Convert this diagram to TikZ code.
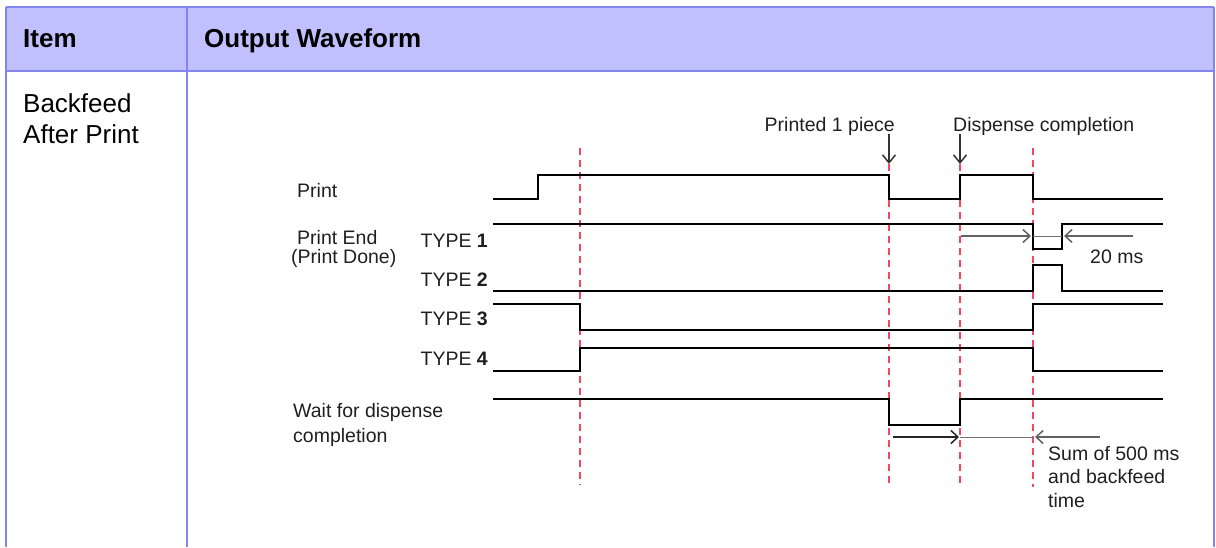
\documentclass[tikz,border=0pt]{standalone}
\usepackage{fontspec}
\setmainfont{Liberation Sans}
\usetikzlibrary{arrows.meta}
\definecolor{hdrfill}{RGB}{192,192,255}
\definecolor{hdrline}{RGB}{132,132,238}
\definecolor{dashred}{RGB}{245,70,90}
\tikzset{
  wave/.style={line width=2pt, black, line join=miter, line cap=rect},
  marker/.style={dashred, line width=1.8pt, dash pattern=on 7pt off 5pt},
  lbl/.style={font=\fontsize{19.5}{23}\selectfont, inner sep=0pt, anchor=base west, text=black!88},
  lblr/.style={lbl, anchor=base east},
  cell/.style={font=\fontsize{26}{30}\selectfont, inner sep=0pt, anchor=base west},
  hdr/.style={cell, font=\fontsize{26}{30}\selectfont\bfseries},
  tline/.style={hdrline, line width=2.4pt},
  timearrow/.style={draw=black!62, line width=1.5pt, -{Straight Barb[length=7pt,width=13pt,line width=1.5pt]}},
  thinline/.style={draw=black!55, line width=0.8pt},
  downarrow/.style={draw=black!80, line width=1.5pt, -{Straight Barb[length=8pt,width=13pt,line width=1.5pt]}}
}
\begin{document}
\begin{tikzpicture}[x=1pt,y=-1pt]
\useasboundingbox (0,0) rectangle (1216,547);
% table
\fill[hdrfill] (6,7) rectangle (1214,71);
\draw[tline] (6,7) -- (1214,7);
\draw[tline] (6,71) -- (1214,71);
\draw[tline] (6,7) -- (6,547);
\draw[tline] (187,7) -- (187,547);
\draw[tline] (1214,7) -- (1214,547);
\node[hdr] (hitem) at (23,47) {Item};
\node[hdr] (hwave) at (204,47) {Output Waveform};
\node[cell] (bf1) at (23,112) {Backfeed};
\node[cell] (bf2) at (23,143) {After Print};

% dashed markers
\draw[marker] (580,148) -- (580,485);
\draw[marker] (889,164) -- (889,485);
\draw[marker] (960,164) -- (960,485);
\draw[marker] (1033,148) -- (1033,487);

% waveforms
\draw[wave] (494,199) -- (538,199) -- (538,175) -- (889,175) -- (889,199) -- (960,199) -- (960,175) -- (1033,175) -- (1033,199) -- (1162,199);
\draw[wave] (494,224) -- (1033,224) -- (1033,249) -- (1062,249) -- (1062,224) -- (1162,224);
\draw[wave] (494,291) -- (1033,291) -- (1033,265) -- (1062,265) -- (1062,291) -- (1162,291);
\draw[wave] (494,304) -- (580,304) -- (580,330) -- (1033,330) -- (1033,304) -- (1162,304);
\draw[wave] (494,371) -- (580,371) -- (580,348) -- (1033,348) -- (1033,371) -- (1162,371);
\draw[wave] (494,399) -- (889,399) -- (889,425) -- (960,425) -- (960,399) -- (1162,399);

% labels
\node[lbl] (lprint) at (297,197) {Print};
\node[lbl] (lpe1) at (297,244) {Print End};
\node[lbl] (lpe2) at (291,263) {(Print Done)};
\node[lblr] (t1) at (488,247) {TYPE \textbf{1}};
\node[lblr] (t2) at (488,286) {TYPE \textbf{2}};
\node[lblr] (t3) at (488,325) {TYPE \textbf{3}};
\node[lblr] (t4) at (488,365) {TYPE \textbf{4}};
\node[lbl] (lw1) at (293,417) {Wait for dispense};
\node[lbl] (lw2) at (293,442) {completion};
\node[lbl,anchor=base east] (lp1) at (895,131) {Printed 1 piece};
\node[lbl] (ldc) at (953,131) {Dispense completion};
\node[lbl] (l20) at (1090,263) {20 ms};
\node[lbl] (ls1) at (1048,460) {Sum of 500 ms};
\node[lbl] (ls2) at (1048,483) {and backfeed};
\node[lbl] (ls3) at (1048,507) {time};

% down arrows
\coordinate (p1tip) at (889,164);
\coordinate (dctip) at (960,164);
\draw[downarrow] (889,134) -- (p1tip);
\draw[downarrow] (960,134) -- (dctip);

% 20 ms arrows
\coordinate (a1s) at (961,236);
\coordinate (a1e) at (1031,236);
\coordinate (a2s) at (1133,236);
\coordinate (a2e) at (1064,236);
\draw[thinline] (1033,236) -- (1062,236);
\draw[timearrow] (a1s) -- (a1e);
\draw[timearrow] (a2s) -- (a2e);

% bottom arrows
\coordinate (b1s) at (893,437);
\coordinate (b1e) at (959,437);
\coordinate (b2s) at (1100,437);
\coordinate (b2e) at (1035,437);
\draw[thinline] (960,437) -- (1034,437);
\draw[timearrow,draw=black!85] (b1s) -- (b1e);
\draw[timearrow] (b2s) -- (b2e);
\end{tikzpicture}
\end{document}
